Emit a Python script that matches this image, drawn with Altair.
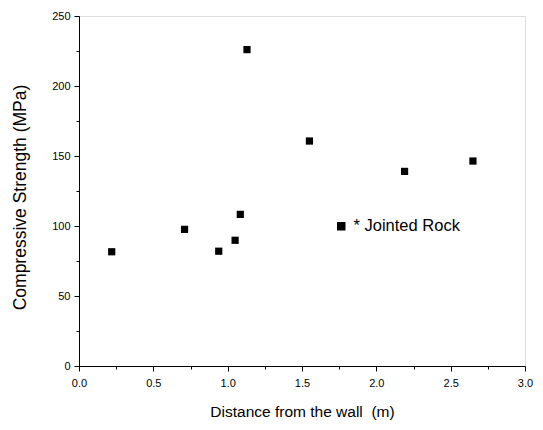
import altair as alt
import pandas as pd

distance = [0.22, 0.71, 0.94, 1.05, 1.085, 1.13, 1.55, 2.19, 2.65]
strength = [81.6, 97.6, 82.0, 89.8, 108.3, 226.0, 160.7, 139.0, 146.4]
series_name = "* Jointed Rock"

x_major = [0.0, 0.5, 1.0, 1.5, 2.0, 2.5, 3.0]
x_minor = [0.25, 0.75, 1.25, 1.75, 2.25, 2.75]
y_major = [0, 50, 100, 150, 200, 250]
y_minor = [25, 75, 125, 175, 225]

df = pd.DataFrame({"d": distance, "s": strength, "series": [series_name] * len(distance)})

FONT = "Liberation Sans"
W, H = 446, 350

xscale = alt.Scale(domain=[0, 3], nice=False, zero=False)
yscale = alt.Scale(domain=[0, 250], nice=False)

points = alt.Chart(df).mark_square(size=52, opacity=1, filled=True).encode(
    x=alt.X("d:Q", scale=xscale,
            axis=alt.Axis(values=x_major, format=".1f", orient="bottom",
                          title="Distance from the wall\u00a0 (m)",
                          titleX=W / 2, titleY=45, titleBaseline="middle",
                          titleFontSize=15.5, titleFontWeight="normal",
                          labelFontSize=11, tickSize=5, labelPadding=6, labelFlush=False,
                          grid=False, domainColor="black", tickColor="black",
                          labelColor="black", titleColor="black", titleFont=FONT, labelFont=FONT)),
    y=alt.Y("s:Q", scale=yscale,
            axis=alt.Axis(values=y_major, orient="left",
                          title="Compressive Strength (MPa)",
                          titleX=-59, titleY=H / 2 + 6, titleAngle=-90, titleAlign="center",
                          titleBaseline="middle",
                          titleFontSize=17.5, titleFontWeight="normal",
                          labelFontSize=11, tickSize=5, labelPadding=4, labelFlush=False,
                          grid=False, domainColor="black", tickColor="black",
                          labelColor="black", titleColor="black", titleFont=FONT, labelFont=FONT)),
    color=alt.Color("series:N", scale=alt.Scale(range=["black"]),
                    legend=alt.Legend(title=None, orient="none", legendX=254, legendY=202,
                                      symbolType="square", symbolSize=49, symbolFillColor="black",
                                      symbolStrokeColor="black", labelFontSize=16.5, labelFont=FONT,
                                      labelColor="black", labelOffset=4, padding=0)),
)

minor = alt.Chart(df).mark_point(opacity=0).encode(
    x=alt.X("d:Q", scale=xscale,
            axis=alt.Axis(values=x_minor, orient="bottom", labels=False, title=None,
                          tickSize=3, grid=False, domain=False, tickColor="black")),
    y=alt.Y("s:Q", scale=yscale,
            axis=alt.Axis(values=y_minor, orient="left", labels=False, title=None,
                          tickSize=3, grid=False, domain=False, tickColor="black")),
)

chart = alt.layer(points, minor).resolve_axis(x="independent", y="independent").properties(
    width=W, height=H,
    autosize=alt.AutoSizeParams(type="none"),
    padding={"left": 79, "top": 16, "right": 18, "bottom": 64},
).configure_view(stroke="black", strokeWidth=1).configure(background="white")

chart.save("out.html", embed_options={"renderer": "svg", "actions": False})
